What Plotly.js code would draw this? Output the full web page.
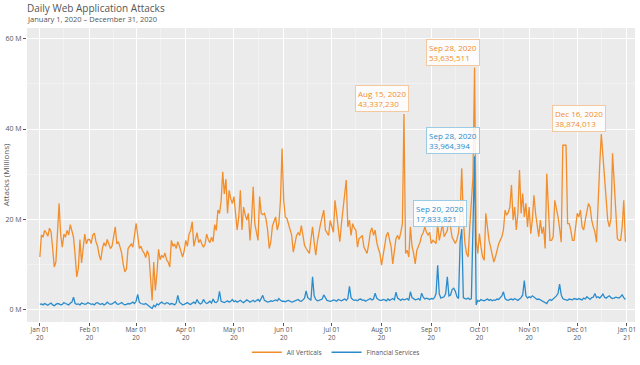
<!DOCTYPE html>
<html>
<head>
<meta charset="utf-8">
<script src="https://cdn.plot.ly/plotly-3.0.1.min.js"></script>
<style>html,body{margin:0;padding:0;background:#fff;}#chart{width:640px;height:365px;}</style>
</head>
<body>
<div id="chart"></div>
<script>
// Daily values in millions, by month (2020)
const allJan = [11.6,16.5,16.0,17.5,17.0,16.2,18.0,17.2,13.5,9.4,10.5,17.5,23.5,16.5,13.8,16.7,16.0,17.5,16.5,18.8,17.5,16.0,12.0,7.2,9.0,15.5,10.3,13.5,16.7,14.5,15.5];
const allFeb = [15.5,14.6,16.5,16.9,15.0,14.0,12.0,10.9,13.5,14.8,14.0,15.5,14.5,13.5,14.0,16.0,18.3,14.5,15.0,13.8,12.5,10.0,8.3,9.0,13.5,14.0,14.5,13.8,17.0];
const allMar = [19.1,16.5,13.5,14.0,13.0,12.5,11.5,13.0,12.0,7.0,2.0,10.5,4.2,8.0,13.3,11.0,12.0,11.5,12.5,11.0,10.5,9.4,15.3,14.0,14.5,13.5,15.0,14.0,12.5,11.6,13.0];
const allApr = [15.3,14.0,16.7,17.5,19.4,14.0,15.5,17.0,14.8,15.5,14.5,13.8,14.5,16.7,15.5,14.8,16.0,15.0,18.8,17.5,22.0,21.3,24.0,30.5,25.6,28.9,21.3,26.4,24.5,23.5];
const allMay = [25.0,21.0,17.6,20.5,26.4,17.6,22.7,21.0,19.8,21.3,15.3,20.0,27.2,19.0,17.0,15.3,25.0,21.3,21.0,21.3,20.0,17.6,13.5,15.0,18.5,19.8,20.5,17.6,19.0,24.2,35.7];
const allJun = [24.2,20.5,20.2,19.0,17.5,16.4,12.7,15.0,16.4,17.0,16.4,18.6,16.0,14.2,13.5,13.0,12.4,15.5,18.3,14.9,12.0,15.0,17.6,19.0,20.5,22.0,17.6,17.0,16.4,19.7];
const allJul = [18.0,17.1,24.2,21.0,19.0,15.0,19.0,22.0,26.4,28.7,18.3,19.8,16.4,19.0,18.0,17.6,13.8,15.7,16.0,16.4,13.8,13.1,12.4,14.5,17.1,18.1,16.4,17.6,14.9,13.5,12.4];
const allAug = [9.8,12.0,14.9,16.4,17.1,15.5,13.8,10.1,12.5,15.7,16.4,15.5,17.1,19.0,43.337230,12.4,13.1,11.6,18.3,14.0,12.4,10.1,13.1,14.0,14.9,16.4,17.0,18.3,17.1,16.5,17.1];
const allSep = [14.6,15.3,15.0,14.6,19.0,15.3,17.0,19.0,16.1,16.8,17.5,20.5,17.6,16.0,15.3,14.6,15.5,17.0,21.3,31.3,19.8,14.6,12.4,11.6,18.3,24.2,29.4,53.635511,15.3,12.4];
const allOct = [16.8,13.8,11.6,10.9,21.3,18.3,15.3,13.8,12.4,10.5,11.6,13.1,14.5,15.3,16.1,17.6,22.0,20.9,21.5,22.7,27.6,19.8,22.7,17.6,21.3,30.9,21.3,25.7,20.5,23.5,18.3];
const allNov = [22.7,16.8,19.8,25.3,21.3,18.5,16.1,19.8,16.8,18.3,13.5,30.1,21.3,15.3,15.3,16.1,24.2,22.7,20.5,18.0,14.9,36.4,36.4,36.4,19.0,19.0,17.5,15.3,15.3,18.0];
const allDec = [21.3,20.5,22.0,18.3,17.6,19.8,21.5,23.5,22.7,19.8,18.3,17.2,14.9,25.7,32.0,38.874013,33.8,28.7,23.5,19.8,18.3,20.0,34.6,27.2,19.8,15.7,15.3,15.3,18.3,24.2,15.0];

const finJan = [1.1,1.2,1.0,1.3,1.1,0.9,1.2,1.4,1.0,0.8,1.1,1.3,1.2,1.0,1.1,1.5,1.3,1.2,1.0,1.4,1.6,2.7,1.3,1.1,1.2,1.0,1.4,1.3,1.1,1.2,1.5];
const finFeb = [1.3,1.1,1.2,1.0,1.4,1.5,1.2,1.1,1.3,1.0,1.2,1.6,1.3,1.1,1.2,1.4,1.7,1.2,1.1,1.3,1.5,1.2,1.0,1.1,1.3,1.2,1.4,1.6,1.3];
const finMar = [1.8,3.3,1.6,1.3,1.2,1.1,1.3,1.0,0.9,0.5,0.2,0.9,0.6,1.2,1.0,1.4,1.6,1.3,1.2,1.5,1.4,1.1,1.3,1.2,1.0,1.4,3.1,1.6,1.2,1.0,1.1];
const finApr = [1.3,1.5,1.2,1.1,1.4,1.6,1.3,2.2,1.5,1.2,1.4,2.2,1.6,1.3,1.5,1.8,1.4,2.3,1.6,1.5,1.9,4.0,1.8,1.6,1.5,1.7,1.9,1.6,1.8,2.2];
const finMay = [1.7,1.9,1.6,1.8,2.0,1.7,1.5,1.8,2.1,1.9,1.6,1.8,2.0,1.7,1.9,2.2,1.8,2.5,3.1,2.0,1.8,1.6,1.7,1.9,1.8,2.0,2.1,1.9,2.4,2.0,1.8];
const finJun = [1.8,1.7,1.9,2.0,1.8,1.6,1.7,1.9,2.0,2.2,1.9,1.8,2.1,2.5,4.1,2.6,2.3,2.0,7.2,3.0,2.2,1.9,2.0,2.1,2.3,3.2,2.4,2.0,1.9,1.8];
const finJul = [1.9,2.1,2.0,1.8,2.2,2.0,1.9,2.1,2.3,2.0,2.4,5.1,2.6,2.2,2.0,2.1,1.9,2.2,2.3,2.0,2.1,1.8,2.0,2.2,2.4,2.1,2.3,3.6,2.5,2.2,2.0];
const finAug = [2.0,2.2,2.1,1.9,2.3,2.0,2.2,2.4,2.1,3.8,2.5,2.2,2.0,2.3,2.1,2.2,2.4,2.0,3.9,2.6,2.3,2.1,2.2,2.4,2.0,3.6,2.7,2.3,2.5,2.4,2.2];
const finSep = [2.4,2.3,2.6,3.5,9.8,3.4,2.5,2.6,2.8,3.5,7.2,3.0,3.2,4.4,4.7,4.0,2.8,2.4,15.0,17.833821,2.6,2.4,2.3,2.5,2.2,2.4,21.0,33.964394,1.0,2.0];
const finOct = [1.8,2.2,2.0,1.9,2.1,2.3,2.0,2.2,1.9,2.1,2.0,2.3,2.2,2.5,3.0,3.9,2.4,2.1,2.0,2.2,2.3,2.1,2.4,2.2,2.0,2.3,2.6,3.2,6.4,3.0,2.5];
const finNov = [2.8,2.6,3.0,2.7,2.4,2.2,2.3,2.1,2.0,1.8,1.5,1.3,1.9,2.2,2.0,2.3,2.6,3.0,3.5,5.6,3.2,2.4,2.2,2.1,2.0,2.3,2.2,2.1,2.4,2.3];
const finDec = [2.2,2.4,2.3,2.1,2.5,2.3,2.8,2.4,2.2,2.6,2.7,3.5,2.6,2.8,2.5,2.9,3.4,2.7,2.5,2.8,3.0,2.6,2.4,2.5,2.7,2.6,2.5,2.8,3.2,2.6,2.2];

const seriesNames = ["All Verticals", "Financial Services"];
const seriesColors = ["#F28E2B", "#2B8CCC"];
const yTickVals = [0, 20, 40, 60];
const yTickText = ["0 M", "20 M", "40 M", "60 M"];
const chartTitle = "Daily Web Application Attacks";
const chartSubtitle = "January 1, 2020 – December 31, 2020";

// annotated peaks
const annDates = ["2020-08-15", "2020-09-28", "2020-12-16", "2020-09-28", "2020-09-20"];
const annLabels = ["Aug 15, 2020", "Sep 28, 2020", "Dec 16, 2020", "Sep 28, 2020", "Sep 20, 2020"];
const annValues = [43337230, 53635511, 38874013, 33964394, 17833821];
const annSeries = [0, 0, 0, 1, 1];

const allVals = [].concat(allJan, allFeb, allMar, allApr, allMay, allJun, allJul, allAug, allSep, allOct, allNov, allDec);
const finVals = [].concat(finJan, finFeb, finMar, finApr, finMay, finJun, finJul, finAug, finSep, finOct, finNov, finDec);

const dates = [];
for (let i = 0; i < allVals.length; i++) {
  const d = new Date(Date.UTC(2020, 0, 1) + i * 86400000);
  dates.push(d.toISOString().slice(0, 10));
}

const FONT = "Open Sans, Lato, sans-serif";
const traces = [
  {x: dates, y: allVals, type: "scatter", mode: "lines", name: seriesNames[0],
   line: {color: seriesColors[0], width: 1.3}, hoverinfo: "skip"},
  {x: dates, y: finVals, type: "scatter", mode: "lines", name: seriesNames[1],
   line: {color: seriesColors[1], width: 1.3}, hoverinfo: "skip"}
];

const annotations = annDates.map((d, i) => ({
  x: d, y: annValues[i] / 1e6, xref: "x", yref: "y",
  text: annLabels[i] + "<br>" + annValues[i].toLocaleString("en-US"),
  showarrow: false, xanchor: "right", yanchor: "bottom", xshift: 5, yshift: 2,
  align: "left",
  font: {family: FONT, size: 8, color: seriesColors[annSeries[i]]},
  bgcolor: "rgba(255,255,255,0.85)",
  bordercolor: annSeries[i] === 0 ? "#F6C8A0" : "#9CCBE6",
  borderwidth: 1, borderpad: 2
}));

annotations.push({
  text: chartTitle,
  xref: "paper", yref: "paper", x: -0.004, y: 1.0697,
  xanchor: "left", yanchor: "middle", showarrow: false,
  font: {family: FONT, size: 10, color: "#555555"}
});
annotations.push({
  text: chartSubtitle,
  xref: "paper", yref: "paper", x: -0.004, y: 1.0306,
  xanchor: "left", yanchor: "middle", showarrow: false,
  font: {family: FONT, size: 7.5, color: "#555555"}
});

const layout = {
  width: 640, height: 365,
  margin: {l: 27, r: 5, t: 28, b: 43},
  paper_bgcolor: "#FFFFFF",
  plot_bgcolor: "#EBEBEB",
  xaxis: {
    type: "date", range: ["2019-12-24", "2021-01-06"], automargin: false,
    dtick: "M1", tick0: "2020-01-01", tickformat: "%b %d<br>%y",
    showgrid: true, gridcolor: "#FFFFFF", gridwidth: 1,
    minor: {dtick: "M1", tick0: "2020-01-16", showgrid: true, gridcolor: "#F7F7F7", gridwidth: 0.6},
    zeroline: false, showline: false,
    ticks: "outside", ticklen: 3, tickcolor: "#555555", ticklabelstandoff: -2,
    tickfont: {family: FONT, size: 6.5, color: "#555555"}
  },
  yaxis: {
    range: [-2.8, 62.4], tickvals: yTickVals, ticktext: yTickText, automargin: false,
    showgrid: true, gridcolor: "#FFFFFF", gridwidth: 1,
    minor: {tickvals: [10, 30, 50], showgrid: true, gridcolor: "#F7F7F7", gridwidth: 0.6},
    zeroline: false, showline: false,
    ticks: "outside", ticklen: 3, tickcolor: "#555555",
    tickfont: {family: FONT, size: 7, color: "#555555"},
    title: {text: "Attacks (Millions)", standoff: 4, font: {family: FONT, size: 8, color: "#555555"}}
  },
  showlegend: true,
  legend: {orientation: "h", x: 0.508, xanchor: "center", xref: "paper",
           y: 0.035, yanchor: "middle", yref: "container",
           font: {family: FONT, size: 6.5, color: "#555555"}, bgcolor: "rgba(0,0,0,0)"},
  annotations: annotations
};

Plotly.newPlot("chart", traces, layout, {displayModeBar: false, staticPlot: true});
</script>
</body>
</html>
